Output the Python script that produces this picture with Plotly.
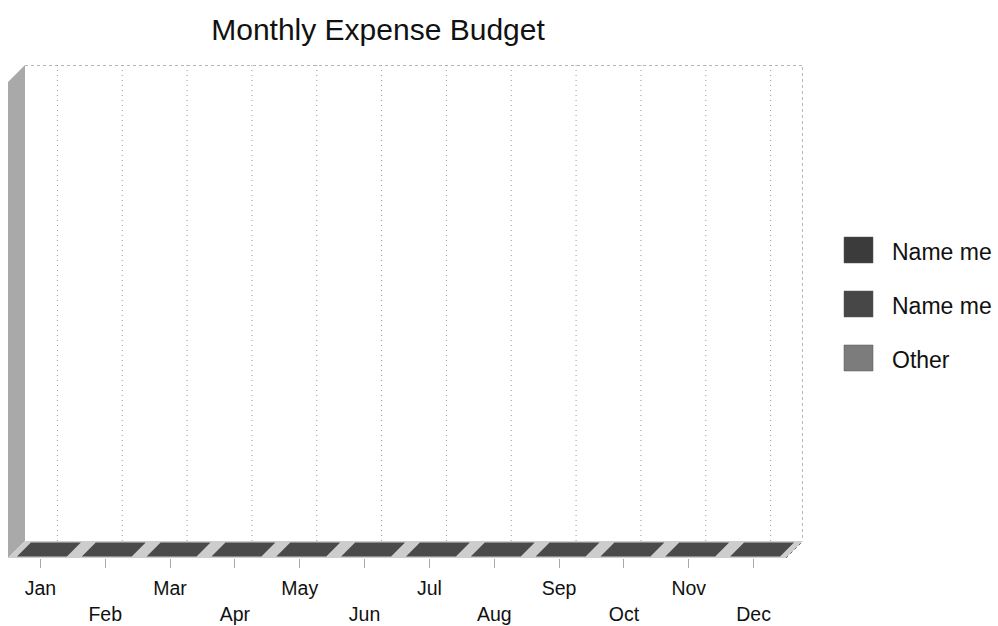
import plotly.graph_objects as go

# ---- data -------------------------------------------------------------
months = ["Jan", "Feb", "Mar", "Apr", "May", "Jun",
          "Jul", "Aug", "Sep", "Oct", "Nov", "Dec"]
series_names = ["Name me", "Name me", "Other"]
name_me_a = [0, 0, 0, 0, 0, 0, 0, 0, 0, 0, 0, 0]
name_me_b = [0, 0, 0, 0, 0, 0, 0, 0, 0, 0, 0, 0]
other = [0, 0, 0, 0, 0, 0, 0, 0, 0, 0, 0, 0]
value_max = 1  # value axis top when every entry is zero

series_values = [name_me_a, name_me_b, other]
series_colors = ["#3b3b3b", "#474747", "#7c7c7c"]

# ---- pseudo-3D geometry (category / value units) ------------------------
DEPTH_X = 0.2622          # receding depth along the category axis
DEPTH_Y = 0.0357 * value_max  # receding depth along the value axis
BAR_W = 0.77              # bar width as a share of one category
F0, F1 = 0.09, 0.91       # bar depth span inside the floor

n = len(months)
x_lo, x_hi = -0.5, n - 0.5

fig = go.Figure()


def poly(points):
    xs = [p[0] for p in points] + [points[0][0]]
    ys = [p[1] for p in points] + [points[0][1]]
    return xs, ys


def add_fill(xs, ys, color, line_color=None, line_width=0):
    fig.add_trace(go.Scatter(
        x=xs, y=ys, mode="lines", fill="toself", fillcolor=color,
        line=dict(color=line_color or color, width=line_width),
        hoverinfo="skip", showlegend=False))


# left wall
xs, ys = poly([(x_lo, 0), (x_lo + DEPTH_X, DEPTH_Y),
               (x_lo + DEPTH_X, value_max + DEPTH_Y), (x_lo, value_max)])
add_fill(xs, ys, "#a9a9a9")

# back wall outline (top and right edges)
fig.add_trace(go.Scatter(
    x=[x_lo + DEPTH_X, x_hi + DEPTH_X, x_hi + DEPTH_X],
    y=[value_max + DEPTH_Y, value_max + DEPTH_Y, DEPTH_Y],
    mode="lines", line=dict(color="#6e6e6e", width=1, dash="dot"),
    hoverinfo="skip", showlegend=False))

# vertical dotted gridlines on the back wall, one per category
gx, gy = [], []
for i in range(n):
    gx += [i + DEPTH_X, i + DEPTH_X, None]
    gy += [DEPTH_Y, value_max + DEPTH_Y, None]
fig.add_trace(go.Scatter(
    x=gx, y=gy, mode="lines",
    line=dict(color="#9a9a9a", width=1, dash="1px,4px"),
    hoverinfo="skip", showlegend=False))

# floor
xs, ys = poly([(x_lo, 0), (x_hi, 0),
               (x_hi + DEPTH_X, DEPTH_Y), (x_lo + DEPTH_X, DEPTH_Y)])
add_fill(xs, ys, "#cdcdcd")
fig.add_trace(go.Scatter(
    x=[x_hi, x_hi + DEPTH_X], y=[0, DEPTH_Y], mode="lines",
    line=dict(color="#6e6e6e", width=1, dash="dot"),
    hoverinfo="skip", showlegend=False))

# stacked 3D bars: front faces, right side faces, then the top face
base = [0] * n
for vals, color in zip(series_values, series_colors):
    fx, fy, sx, sy = [], [], [], []
    for i in range(n):
        b, t = base[i], base[i] + vals[i]
        xl = i - BAR_W / 2 + F0 * DEPTH_X
        xr = i + BAR_W / 2 + F0 * DEPTH_X
        y0 = F0 * DEPTH_Y
        px, py = poly([(xl, b + y0), (xr, b + y0), (xr, t + y0), (xl, t + y0)])
        fx += px + [None]
        fy += py + [None]
        dx = (F1 - F0) * DEPTH_X
        dy = (F1 - F0) * DEPTH_Y
        px, py = poly([(xr, b + y0), (xr + dx, b + y0 + dy),
                       (xr + dx, t + y0 + dy), (xr, t + y0)])
        sx += px + [None]
        sy += py + [None]
        base[i] = t
    add_fill(sx, sy, color)
    add_fill(fx, fy, color)

tx, ty = [], []
for i in range(n):
    xl = i - BAR_W / 2
    xr = i + BAR_W / 2
    px, py = poly([(xl + F0 * DEPTH_X, base[i] + F0 * DEPTH_Y),
                   (xr + F0 * DEPTH_X, base[i] + F0 * DEPTH_Y),
                   (xr + F1 * DEPTH_X, base[i] + F1 * DEPTH_Y),
                   (xl + F1 * DEPTH_X, base[i] + F1 * DEPTH_Y)])
    tx += px + [None]
    ty += py + [None]
add_fill(tx, ty, "#4a4a4a")

# ---- layout -----------------------------------------------------------
W, H = 998, 626
ML, MR, MT, MB = 8, 195, 65, 68
PW, PH = W - ML - MR, H - MT - MB

tick_text = [m if i % 2 == 0 else "<br>" + m for i, m in enumerate(months)]

fig.update_layout(
    width=W, height=H,
    margin=dict(l=ML, r=MR, t=MT, b=MB, pad=0, autoexpand=False),
    paper_bgcolor="white", plot_bgcolor="white",
    showlegend=False,
    font=dict(family="Liberation Sans, Arial, sans-serif", color="#111111"),
    title=dict(text="Monthly Expense Budget",
               font=dict(size=30, color="#111111"),
               xref="container", yref="container",
               x=378 / W, xanchor="center",
               y=1 - 29 / H, yanchor="middle"),
    xaxis=dict(range=[x_lo, x_hi + DEPTH_X], tickmode="array",
               tickvals=list(range(n)), ticktext=tick_text,
               tickfont=dict(size=19.5), ticks="outside", ticklen=9,
               tickcolor="#a8a8a8", tickwidth=1, ticklabelstandoff=4,
               automargin=False,
               showgrid=False, zeroline=False, showline=False,
               fixedrange=True),
    yaxis=dict(range=[0, value_max + DEPTH_Y], visible=False,
               automargin=False, fixedrange=True),
)


# ---- legend (large swatches) -------------------------------------------
def px_x(p):
    return (p - ML) / PW


def px_y(p):
    return (H - MB - p) / PH


legend_rows = [250, 304, 358]
for name, color, yc in zip(series_names, series_colors, legend_rows):
    fig.add_shape(type="rect", xref="paper", yref="paper",
                  x0=px_x(844), x1=px_x(873),
                  y0=px_y(yc + 13), y1=px_y(yc - 13),
                  fillcolor=color, line=dict(color="#555555", width=0.5))
    fig.add_annotation(text=name, xref="paper", yref="paper",
                       x=px_x(890), y=px_y(yc + 2),
                       xanchor="left", yanchor="middle", showarrow=False,
                       font=dict(size=23, color="#111111"))

fig.write_html("out.html")
